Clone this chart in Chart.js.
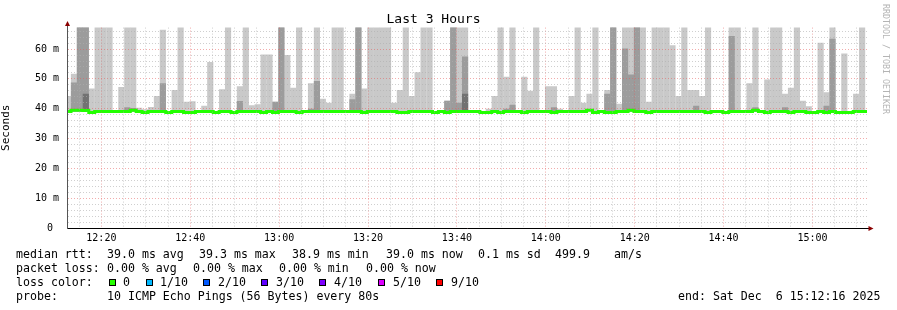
<!DOCTYPE html>
<html>
<head>
<meta charset="utf-8">
<script src="https://cdn.jsdelivr.net/npm/chart.js@4.4.1/dist/chart.umd.min.js"></script>
<style>
    html, body { margin: 0; padding: 0; background: #fff; }
    #wrap { position: relative; width: 897px; height: 310px; overflow: hidden; }
    #wrap canvas { position: absolute; left: 0; top: 0; }
    .t { position: absolute; font: 11.6px "DejaVu Sans Mono", monospace; white-space: pre; color: #000; line-height: 14px; }
    .sw { position: absolute; width: 5px; height: 5px; border: 1px solid #000; }
    #brand { position: absolute; left: 881px; top: 4px; font: 8.3px "DejaVu Sans Mono", monospace; line-height: 10px; color: #b4b4b4; writing-mode: vertical-rl; white-space: pre; }
</style>
</head>
<body>
<div id="wrap">
    <canvas id="smoke" width="897" height="310" style="width:897px;height:310px"></canvas>
    <div id="brand">RRDTOOL / TOBI OETIKER</div>
    <div id="legend"></div>
</div>
<script>
// smokeping "Last 3 Hours" – 80 s bins, values in ms
const rangeStart = '12:12:16';
const rangeEnd = '15:12:16';
const firstBin = '12:11:50';
const binSeconds = 80;

// top of the light smoke (outer pings), 70 = off the top of the graph
const smokeHigh = [
    44.3, 51.7, 70, 70, 46.8, 70, 70, 70, null, 47.3,
    70, 70, 40.3, 39.8, 40.6, 44.3, 66.5, null, 46.3, 70,
    42.3, 42.5, null, 41.0, 55.7, null, 46.5, 70, null, 47.5,
    70, 41.2, 41.5, 58.2, 58.2, 42.3, 70, 58.0, 47.0, 70,
    null, 48.5, 70, 43.3, 42.0, 70, 70, null, 45.0, 70,
    46.8, 70, 70, 70, 70, 42.0, 46.3, 70, 44.3, 52.2,
    70, 70, null, null, 42.7, 70, 70, 70, null, null,
    null, 40.0, 44.3, 70, 50.7, 70, null, 50.7, 46.0, 70,
    null, 47.5, 47.5, 40.0, null, 44.3, 70, 42.0, 45.0, 70,
    null, 46.3, 70, 41.7, 70, 70, 70, 70, 42.3, 70,
    70, 70, 61.3, 44.3, 70, 46.3, 46.3, 44.3, 70, null,
    null, null, 70, 70, null, 48.5, 70, null, 49.8, 70,
    70, 45.0, 47.0, 70, 42.7, 40.8, null, 62.1, 45.5, 70,
    null, 58.5, null, 45.0, 70, null
];

// top of the middle smoke band
const smokeMid = [
    null, 48.8, 70, 70, null, null, null, null, null, null,
    40.5, 40.2, null, null, null, null, 48.5, null, null, null,
    null, null, null, null, null, null, null, null, null, 42.6,
    null, null, null, null, null, 42.3, 70, null, null, null,
    null, 40.0, 49.3, null, null, null, null, null, 43.2, 70,
    null, null, null, null, null, null, null, null, null, null,
    null, null, null, null, 42.7, 70, 42.0, 57.5, null, null,
    null, null, null, null, 40.0, 41.3, null, null, null, null,
    null, null, 40.5, null, null, null, null, null, null, null,
    null, 45.0, 70, null, 60.2, 51.5, 70, null, null, null,
    null, null, null, null, null, null, 41.0, null, null, null,
    null, null, 64.4, null, null, null, 40.5, null, null, null,
    null, 40.5, null, null, null, null, null, null, 41.0, 63.5,
    null, null, null, null, null, null
];

// top of the dark core band
const smokeCore = [
    null, null, null, 45.0, null, null, null, null, null, null,
    null, null, null, null, null, null, null, null, null, null,
    null, null, null, null, null, null, null, null, null, null,
    null, null, null, null, null, null, null, null, null, null,
    null, null, null, null, null, null, null, null, null, null,
    null, null, null, null, null, null, null, null, null, null,
    null, null, null, null, null, null, null, 45.0, null, null,
    null, null, null, null, null, null, null, null, null, null,
    null, null, null, null, null, null, null, null, null, null,
    null, null, null, null, null, null, null, null, null, null,
    null, null, null, null, null, null, null, null, null, null,
    null, null, null, null, null, null, null, null, null, null,
    null, null, null, null, null, null, null, null, null, null,
    null, null, null, null, null, null
];

const medianRtt = [
    39.1, 39.5, 39.5, 39.4, 38.7, 39.1, 39.1, 39.1, 39.1, 39.1,
    39.1, 39.5, 39.1, 38.7, 39.1, 39.1, 39.1, 38.7, 39.1, 39.1,
    38.7, 38.7, 39.1, 39.1, 39.1, 38.7, 39.1, 39.1, 38.7, 39.1,
    39.1, 39.1, 39.1, 38.7, 39.1, 38.7, 39.1, 39.1, 39.1, 38.7,
    39.1, 39.1, 39.1, 39.1, 39.1, 39.1, 39.1, 39.1, 39.1, 39.1,
    38.7, 39.1, 39.1, 39.1, 39.1, 39.1, 38.7, 38.7, 39.1, 39.1,
    39.1, 39.1, 38.7, 39.1, 38.7, 39.1, 39.1, 39.1, 39.1, 39.1,
    38.7, 38.7, 39.1, 38.7, 39.1, 39.1, 39.1, 38.7, 39.1, 39.1,
    39.1, 39.1, 38.7, 39.1, 39.1, 39.1, 39.1, 39.1, 39.5, 38.7,
    39.1, 38.7, 38.7, 39.1, 39.1, 39.5, 39.1, 39.1, 38.7, 39.1,
    39.1, 39.1, 39.1, 39.1, 39.1, 39.1, 39.1, 39.1, 38.7, 39.1,
    39.1, 38.7, 39.1, 39.1, 39.1, 39.1, 39.5, 39.1, 38.7, 39.1,
    39.1, 39.1, 38.7, 39.1, 39.1, 38.7, 38.7, 39.1, 38.7, 39.1,
    38.7, 38.7, 38.7, 39.1, 39.1, 39.1
];

const timeLabels = ['12:20', '12:40', '13:00', '13:20', '13:40', '14:00', '14:20', '14:40', '15:00'];
const yMax = 67.2;
const smokeFloor = 39.0;

const legendLines = [
    [[16, 'median rtt:'], [107, '39.0 ms avg'], [199, '39.3 ms max'], [292, '38.9 ms min'], [386, '39.0 ms now'], [478, '0.1 ms sd'], [555, '499.9'], [614, 'am/s']],
    [[16, 'packet loss:'], [107, '0.00 % avg'], [193, '0.00 % max'], [279, '0.00 % min'], [366, '0.00 % now']],
    [[16, 'loss color:']],
    [[16, 'probe:'], [107, '10 ICMP Echo Pings (56 Bytes) every 80s'], [678, 'end: Sat Dec  6 15:12:16 2025']]
];
const lossLabels = ['0', '1/10', '2/10', '3/10', '4/10', '5/10', '9/10'];
const lossColors = ['#26ff00', '#00b8ff', '#0059ff', '#5e00ff', '#7e00ff', '#dd00ff', '#ff0000'];
const lossSwatchX = [109, 146, 203, 261, 319, 378, 436];
const lossLabelX = [123, 160, 218, 276, 334, 393, 451];

const toMin = s => { const [h, m, sec] = s.split(':').map(Number); return h * 60 + m + sec / 60; };
const binCenters = medianRtt.map((_, i) => toMin(firstBin) + (i * binSeconds + binSeconds / 2) / 60);
const toBars = arr => arr.map((v, i) => v == null ? null : { x: binCenters[i], y: [smokeFloor, v] }).filter(Boolean);

const majorMinutes = timeLabels.map(l => toMin(l + ':00'));
const xTicks = [];
for (let m = 735; m <= 910; m += 5) xTicks.push(m);
const yTicks = [];
for (let v = 0; v <= 66; v += 2) yTicks.push(v);

const gridRed = 'rgba(230,90,90,0.5)';
const gridGray = 'rgba(175,175,175,0.6)';
const monoFont = 'DejaVu Sans Mono';

const axisArrows = {
    id: 'axisArrows',
    afterDraw(chart) {
        const { ctx, chartArea: { right, top } } = chart;
        ctx.save();
        ctx.lineWidth = 1;
        ctx.strokeStyle = '#555';
        ctx.beginPath(); ctx.moveTo(67.5, top); ctx.lineTo(67.5, top - 4); ctx.stroke();
        ctx.strokeStyle = '#000';
        ctx.beginPath(); ctx.moveTo(right, 228.5); ctx.lineTo(right + 3, 228.5); ctx.stroke();
        ctx.fillStyle = '#8b0000';
        ctx.beginPath(); ctx.moveTo(67.5, top - 6.5); ctx.lineTo(65, top - 1.5); ctx.lineTo(70, top - 1.5); ctx.closePath(); ctx.fill();
        ctx.beginPath(); ctx.moveTo(right + 6.5, 228.5); ctx.lineTo(right + 1.5, 226); ctx.lineTo(right + 1.5, 231); ctx.closePath(); ctx.fill();
        ctx.restore();
    }
};

const barBase = { type: 'bar', grouped: false, barPercentage: 1.04, categoryPercentage: 1, borderWidth: 0 };

new Chart(document.getElementById('smoke').getContext('2d'), {
    type: 'bar',
    data: {
        datasets: [
            { type: 'line', label: 'median rtt', data: medianRtt.map((v, i) => ({ x: binCenters[i], y: v })),
              borderColor: '#22ff00', borderWidth: 3, pointRadius: 0, stepped: 'middle', order: 0 },
            { ...barBase, label: 'core', data: toBars(smokeCore), backgroundColor: '#727272', order: 1 },
            { ...barBase, label: 'mid', data: toBars(smokeMid), backgroundColor: '#9c9c9c', order: 2 },
            { ...barBase, label: 'outer', data: toBars(smokeHigh), backgroundColor: '#c9c9c9', order: 3 }
        ]
    },
    options: {
        responsive: false,
        animation: false,
        layout: { padding: { left: 0, right: 30, top: 0, bottom: 0 } },
        plugins: {
            legend: { display: false },
            tooltip: { enabled: false },
            title: { display: true, text: 'Last 3 Hours', color: '#000',
                     font: { family: monoFont, size: 13, weight: 'normal' }, padding: { top: 12, bottom: 0 } }
        },
        scales: {
            x: {
                type: 'linear', min: toMin(rangeStart), max: toMin(rangeEnd), offset: false,
                afterBuildTicks: s => { s.ticks = xTicks.map(v => ({ value: v })); },
                afterFit: s => { s.height = 82; },
                grid: { z: 1, offset: false, drawTicks: false, lineWidth: 1,
                        color: c => majorMinutes.includes(c.tick && c.tick.value) ? gridRed : gridGray },
                border: { z: 2, color: '#000', width: 1, dash: [1, 2] },
                ticks: { autoSkip: false, maxRotation: 0, padding: 4, color: '#000',
                         font: { family: monoFont, size: 10 },
                         callback: v => { const i = majorMinutes.indexOf(v); return i >= 0 ? timeLabels[i] : ''; } }
            },
            y: {
                min: 0, max: yMax,
                afterBuildTicks: s => { s.ticks = yTicks.map(v => ({ value: v })); },
                afterFit: s => { s.width = 67; },
                grid: { z: 1, drawTicks: false, lineWidth: 1,
                        color: c => (c.tick && c.tick.value % 10 === 0) ? gridRed : gridGray },
                border: { z: 2, color: '#555', width: 1, dash: [1, 2] },
                ticks: { autoSkip: false, padding: 8, color: '#000', font: { family: monoFont, size: 10 },
                         callback: v => v % 10 === 0 ? (v === 0 ? '0 ' : v + ' m') : '' },
                title: { display: true, text: 'Seconds', color: '#000', padding: 0,
                         font: { family: monoFont, size: 11 } }
            }
        }
    },
    plugins: [axisArrows]
});

// text legend under the graph
const legend = document.getElementById('legend');
legendLines.forEach((items, row) => {
    items.forEach(([x, txt]) => {
        const el = document.createElement('div');
        el.className = 't';
        el.style.left = x + 'px';
        el.style.top = (247 + row * 14) + 'px';
        el.textContent = txt;
        legend.appendChild(el);
    });
});
lossLabels.forEach((txt, i) => {
    const sw = document.createElement('div');
    sw.className = 'sw';
    sw.style.left = lossSwatchX[i] + 'px';
    sw.style.top = '279px';
    sw.style.background = lossColors[i];
    legend.appendChild(sw);
    const el = document.createElement('div');
    el.className = 't';
    el.style.left = lossLabelX[i] + 'px';
    el.style.top = '275px';
    el.textContent = txt;
    legend.appendChild(el);
});
</script>
</body>
</html>
